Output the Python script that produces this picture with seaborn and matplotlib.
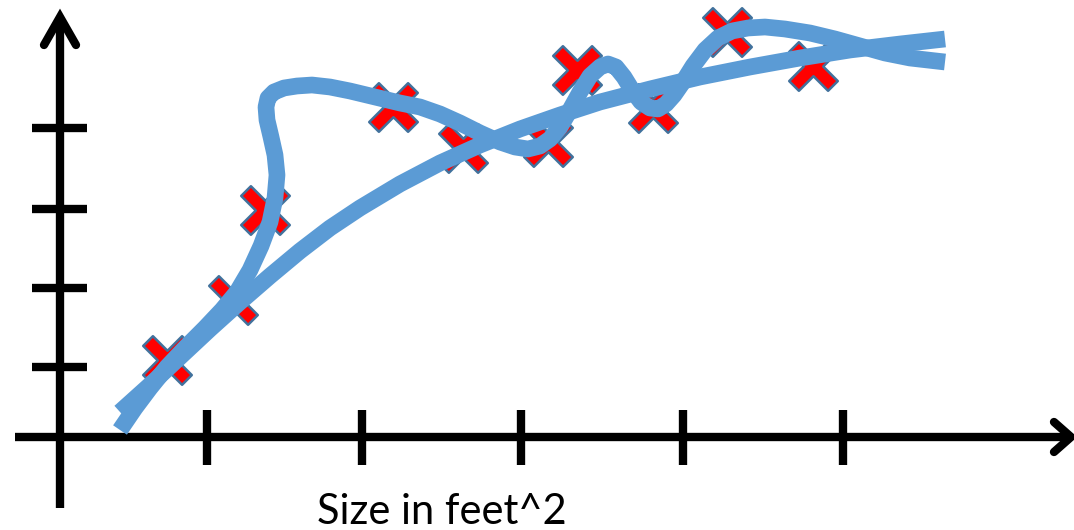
import numpy as np
import pandas as pd
import matplotlib
matplotlib.use("Agg")
import matplotlib.pyplot as plt
from matplotlib.path import Path
import seaborn as sns

# ---- data (in picture units) ----
# training examples (red crosses)
pts_x = [167, 233, 265, 393, 463, 548, 577, 653, 727, 813]
pts_y = [360, 300, 210, 107, 148, 142, 70, 108, 32, 66]

# smooth (good) fit
fit_x = [120, 150, 180, 210, 240, 270, 300, 330, 360, 400, 440, 480, 520, 560,
         600, 650, 700, 750, 800, 850, 900, 945]
fit_y = [412, 385, 357, 329, 302, 276, 251, 228, 208, 184, 163, 145, 129, 115,
         102, 89, 77, 67, 58, 50, 44, 39]

# wiggly (overfit) curve
over_x = [120, 135, 150, 167, 185, 205, 222, 237, 250, 261, 270, 275, 277, 275,
          271, 267, 266, 268, 274, 284, 297, 312, 330, 350, 375, 400, 420, 440,
          460, 480, 500, 515, 528, 540, 550, 560, 570, 580, 590, 600, 608, 616,
          624, 632, 641, 650, 658, 666, 674, 683, 693, 705, 718, 732, 748, 765,
          785, 810, 835, 860, 885, 910, 945]
over_y = [430, 408, 388, 367, 348, 328, 310, 292, 270, 246, 222, 198, 175, 155,
          137, 120, 107, 98, 92, 88, 86, 85, 87, 91, 97, 103, 107, 114,
          123, 133, 142, 147, 149, 146, 139, 127, 110, 92, 76, 67, 64, 67,
          77, 90, 102, 108, 109, 104, 95, 82, 66, 50, 38, 31, 28, 27,
          29, 33, 39, 46, 53, 58, 62]

# axes decoration
xtick_pos = [207, 362, 521, 683, 843]
ytick_pos = [128, 209, 288, 367]
x_label = "Size in feet^2"

# ---- styling ----
sns.set_style("white")
plt.rcParams["font.family"] = ["Lato", "DejaVu Sans"]

fig = plt.figure(figsize=(10.74, 5.30), dpi=100)
ax = fig.add_axes([0, 0, 1, 1])
ax.set_xlim(0, 1074)
ax.set_ylim(530, 0)
ax.axis("off")

AX_LW = 6.0
axkw = dict(color="black", linewidth=AX_LW, solid_capstyle="butt", zorder=1)
# main axes
ax.plot([60, 60], [508, 17], **axkw)
ax.plot([15, 1071], [437, 437], **axkw)
# arrow heads
headkw = dict(color="black", linewidth=AX_LW, solid_capstyle="round",
              solid_joinstyle="miter", zorder=1)
ax.plot([44, 60, 76], [45, 17, 45], **headkw)
ax.plot([1054, 1071, 1054], [422, 437, 452], **headkw)
# ticks
for xt in xtick_pos:
    ax.plot([xt, xt], [410, 465], **axkw)
for yt in ytick_pos:
    ax.plot([32, 87], [yt, yt], **axkw)

# cross marker
h, L = 1.0, 4.0
base = np.array([(-h, -L), (h, -L), (h, -h), (L, -h), (L, h), (h, h), (h, L),
                 (-h, L), (-h, h), (-L, h), (-L, -h), (-h, -h), (-h, -L)])
c, s = np.cos(np.pi / 4), np.sin(np.pi / 4)
rot = base @ np.array([[c, s], [-s, c]])
codes = [Path.MOVETO] + [Path.LINETO] * (len(rot) - 2) + [Path.CLOSEPOLY]
xmark = Path(rot, codes)

sns.scatterplot(x=pts_x, y=pts_y, marker=xmark, s=35 ** 2, color="#FF0000",
                edgecolor="#41719C", linewidth=1.8, zorder=2, ax=ax, legend=False)

curvekw = dict(color="#5B9BD5", linewidth=12, sort=False, estimator=None,
               solid_capstyle="butt", solid_joinstyle="round", zorder=3,
               legend=False)
sns.lineplot(x=fit_x, y=fit_y, ax=ax, **curvekw)
sns.lineplot(x=over_x, y=over_y, ax=ax, **curvekw)

ax.text(442, 524, x_label, ha="center", va="baseline", fontsize=30,
        color="black")

fig.savefig("out.png", dpi=100)
